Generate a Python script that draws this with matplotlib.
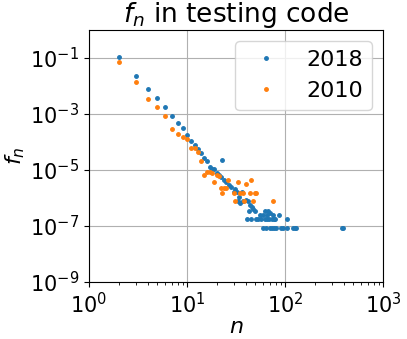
import numpy as np
import matplotlib
matplotlib.use("Agg")
import matplotlib.pyplot as plt

# 2018 series: n and log10(f_n)
n_2018 = [2, 3, 4, 5, 6, 7, 8, 9, 10, 11, 12, 13, 14, 15, 16, 17, 18, 19, 20, 21,
          22, 23, 24, 25, 27, 28, 30, 31, 32, 33, 34, 35, 36, 37, 40, 41, 42, 43, 44,
          45, 46, 47, 49, 51, 53, 56, 57, 59, 60, 62, 63, 64, 65, 66, 67, 68, 70, 71,
          73, 74, 76, 77, 78, 79, 80, 87, 91, 96, 104, 106, 121, 126, 131, 380, 392]
logf_2018 = [-0.975, -1.63, -2.10, -2.44, -2.75, -3.08, -3.33, -3.51, -3.75, -3.95,
             -4.10, -4.25, -4.38, -4.56, -4.68, -4.90, -4.96, -4.96, -5.10, -5.18,
             -5.26, -4.64, -5.36, -5.42, -5.54, -5.60, -5.77, -5.69, -5.77, -6.11,
             -5.95, -6.19, -5.77, -6.11, -6.07, -6.76, -6.11, -6.46, -6.25,
             -6.76, -6.33, -6.39, -6.46, -6.76, -6.76, -6.61, -6.76, -6.61, -7.06,
             -6.46, -6.76, -7.06, -6.61, -6.76, -6.46, -6.76, -6.55, -7.06,
             -6.76, -7.06, -6.61, -6.76, -7.06, -6.76, -7.06, -6.61, -7.06, -7.06,
             -6.76, -7.06, -7.06, -7.06, -7.06, -7.06, -7.06]

# 2010 series
n_2010 = [2, 3, 4, 5, 6, 7, 8, 9, 10, 11, 12, 13, 14, 15, 16, 17, 18, 19, 20, 21,
          22, 23, 24, 25, 26, 30, 31, 33, 35, 37, 38, 40, 44, 45, 47, 49, 51, 76]
logf_2010 = [-1.13, -1.85, -2.46, -2.74, -3.06, -3.55, -3.73, -3.83, -3.89, -4.20,
             -4.20, -4.35, -4.68, -5.18, -5.08, -5.08, -5.11, -5.44, -5.18, -5.21,
             -5.63, -5.83, -5.63, -5.63, -5.36, -5.83, -6.11, -5.44, -5.83, -5.81,
             -6.11, -5.51, -5.83, -5.36, -6.11, -5.83, -5.83, -6.11]

W, H = 407, 339
fig = plt.figure(figsize=(W / 100, H / 100), dpi=100)
ax = fig.add_axes([89 / W, 1 - 282 / H, (383 - 89) / W, (282 - 30) / H])

ax.loglog(n_2018, 10 ** np.array(logf_2018), '.', color='#1f77b4', markersize=5, label='2018')
ax.loglog(n_2010, 10 ** np.array(logf_2010), '.', color='#ff7f0e', markersize=5, label='2010')

ax.set_xlim(1, 1000)
ax.set_ylim(1e-9, 1)
ax.set_yticks([1e-1, 1e-3, 1e-5, 1e-7, 1e-9])
ax.set_xticks([1, 10, 100, 1000])
ax.grid(True, which='major')
ax.tick_params(labelsize=15)
ax.set_title('$f_n$ in testing code', fontsize=19)
ax.set_xlabel('$n$', fontsize=16, labelpad=0)
ax.set_ylabel('$f_n$', fontsize=16, labelpad=2)
ax.legend(loc='upper right', fontsize=16)

fig.savefig('out.png', dpi=100)
